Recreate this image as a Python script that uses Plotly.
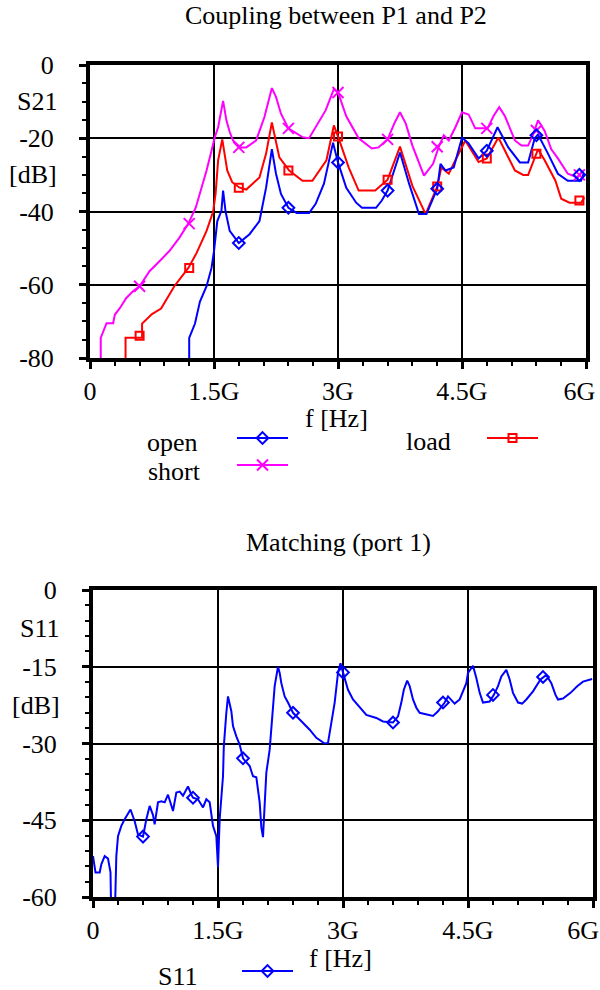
import plotly.graph_objects as go

W, H = 600, 990
FONT = "Liberation Serif"
FS = 26
NB = "\u00a0"

# ---------------- data (frequency in GHz, level in dB) ----------------
TOP_XTICKS = [0, 1.5, 3, 4.5, 6]
TOP_XTEXT = ["0", "1.5G", "3G", "4.5G", "6G"]
BOT_XTEXT = ["0", "1.5G", "3G", "4.5G", "6G"]
TOP_YTICKS = [0, -20, -40, -60, -80]
TOP_YTEXT = ["0", "-20", "-40", "-60", "-80"]
BOT_YTICKS = [0, -15, -30, -45, -60]
BOT_YTEXT = ["0", "-15", "-30", "-45", "-60"]

SHORT_PTS = [
    (0.13, -82), (0.13, -74.5), (0.2, -70.5), (0.28, -70.5), (0.3, -68.2), (0.36, -66.4),
    (0.44, -63.6), (0.52, -61.8), (0.6, -60.4), (0.72, -56.3), (0.84, -53.6), (0.96, -50.8),
    (1.08, -47.2), (1.19, -43.3), (1.28, -38.9), (1.33, -35.2), (1.41, -28.8), (1.47, -23.4),
    (1.51, -19.7), (1.55, -17), (1.59, -11.5), (1.61, -9.8), (1.65, -15.1), (1.69, -18.3),
    (1.73, -20.6), (1.82, -22.5), (1.89, -22.5), (2.01, -20.6), (2.11, -14.2), (2.2, -6.3),
    (2.25, -8.7), (2.31, -13.3), (2.4, -17.3), (2.49, -18.7), (2.57, -19.7), (2.65, -20),
    (2.73, -17), (2.85, -12.4), (2.95, -6.6), (3.0, -7.5), (3.1, -14), (3.25, -20),
    (3.41, -22.8), (3.49, -22.5), (3.6, -20.3), (3.68, -16), (3.75, -12.9), (3.82, -16),
    (3.9, -22), (4.04, -30.2), (4.15, -27), (4.22, -22.3), (4.28, -19.2), (4.34, -20.6),
    (4.42, -17), (4.5, -12.9), (4.58, -13.5), (4.66, -17.3), (4.74, -17.3), (4.81, -17.3),
    (4.88, -14), (4.95, -11.5), (5.02, -14), (5.14, -20.6), (5.22, -22), (5.3, -22),
    (5.36, -19), (5.42, -15.1), (5.5, -18), (5.58, -23), (5.66, -25.5), (5.78, -29.7),
    (5.9, -30.7), (5.96, -28.8),
]
LOAD_PTS = [
    (0.43, -82), (0.43, -74.5), (0.63, -74.5), (0.63, -70.6), (0.75, -68), (0.86, -66.5),
    (1.02, -60.4), (1.19, -55.4), (1.29, -51.3), (1.41, -45.3), (1.49, -40), (1.52, -35),
    (1.55, -26), (1.6, -20.3), (1.66, -28.8), (1.72, -32), (1.81, -33.5), (1.89, -34),
    (2.05, -30.7), (2.13, -24.2), (2.2, -15.7), (2.29, -25.2), (2.41, -28.8), (2.57, -31.6),
    (2.69, -31.6), (2.86, -26), (2.95, -16.5), (3.0, -19.5), (3.13, -28), (3.25, -34.3),
    (3.45, -34.3), (3.6, -31.3), (3.75, -22.3), (3.9, -33), (4.06, -40.7), (4.2, -33.2),
    (4.25, -28), (4.34, -29.7), (4.42, -26), (4.54, -20.6), (4.7, -26.5), (4.8, -25.5),
    (4.94, -19.8), (5.14, -28.8), (5.24, -30), (5.3, -30), (5.42, -23), (5.5, -26),
    (5.63, -31.6), (5.7, -36.5), (5.8, -37.6), (5.94, -37.6), (5.98, -36.2),
]
OPEN_PTS = [
    (1.2, -82), (1.2, -74.5), (1.27, -70.6), (1.33, -64.6), (1.41, -60.4), (1.47, -55.4),
    (1.5, -50.8), (1.54, -42.6), (1.59, -39.8), (1.61, -34.3), (1.64, -40), (1.69, -45.3),
    (1.8, -48.6), (1.93, -46.2), (2.05, -42.6), (2.1, -37), (2.13, -33.5), (2.2, -23),
    (2.25, -29.7), (2.31, -35.2), (2.4, -39), (2.5, -40.4), (2.65, -40.4), (2.73, -37.9),
    (2.83, -32.4), (2.94, -21.2), (3.0, -26.6), (3.1, -33.5), (3.22, -37.6), (3.29, -39),
    (3.46, -39), (3.53, -37), (3.6, -34.3), (3.75, -23.9), (3.86, -32.4), (3.98, -40.7),
    (4.07, -40.7), (4.2, -33.8), (4.24, -27), (4.3, -28.8), (4.4, -28), (4.5, -19.8),
    (4.58, -21.4), (4.7, -25.5), (4.8, -23.4), (4.93, -17), (5.06, -22.5), (5.2, -26.6),
    (5.3, -26.6), (5.38, -20), (5.42, -19), (5.54, -24.2), (5.66, -29.7), (5.78, -31.6),
    (5.94, -31.6), (5.97, -29.7),
]
OPEN_MK_F = [1.8, 2.4, 3.0, 3.6, 4.2, 4.8, 5.4, 5.92]
OPEN_MK_DB = [-48.6, -39, -26.6, -34.3, -33.8, -23.4, -19.2, -30]
LOAD_MK_F = [0.6, 1.2, 1.8, 2.4, 3.0, 3.6, 4.2, 4.8, 5.4, 5.92]
LOAD_MK_DB = [-73.9, -55.4, -33.5, -28.8, -19.5, -31.3, -33.2, -25.5, -24.2, -37]
SHORT_MK_F = [0.6, 1.2, 1.8, 2.4, 3.0, 3.6, 4.2, 4.8, 5.4, 5.92]
SHORT_MK_DB = [-60.4, -43.3, -22.5, -17.3, -7.5, -20.3, -22.3, -17.3, -17.9, -30]

S11_PTS = [
    (0.0, -52), (0.03, -55.2), (0.08, -55.2), (0.1, -53.6), (0.14, -52), (0.18, -52.5),
    (0.21, -55.2), (0.22, -65), (0.26, -65), (0.28, -52), (0.3, -48.1), (0.34, -46.1),
    (0.38, -44.8), (0.45, -42.9), (0.5, -45.2), (0.54, -47.8), (0.6, -48.2), (0.64, -44.8),
    (0.68, -42.2), (0.72, -44), (0.74, -45.8), (0.78, -41.5), (0.82, -41.3), (0.86, -41.5),
    (0.9, -40), (0.96, -43.2), (1.0, -39.6), (1.04, -39.4), (1.08, -40.2), (1.14, -38.4),
    (1.18, -40), (1.2, -40.6), (1.26, -40.9), (1.32, -42.5), (1.36, -40.9), (1.4, -41.5),
    (1.44, -46.1), (1.48, -48.1), (1.5, -54.2), (1.52, -44.8), (1.56, -36.4), (1.57, -30.5),
    (1.6, -24), (1.62, -20.8), (1.66, -23.7), (1.68, -26.6), (1.72, -28.6), (1.76, -30.2),
    (1.8, -32.9), (1.88, -34.4), (1.92, -36.4), (1.96, -36.6), (2.0, -41.5), (2.02, -46.4),
    (2.04, -48.3), (2.06, -42.9), (2.08, -35.7), (2.12, -31.2), (2.14, -27.3), (2.16, -24),
    (2.18, -18.8), (2.22, -15), (2.24, -16.2), (2.26, -18.2), (2.3, -20.8), (2.34, -22),
    (2.4, -24), (2.48, -25.3), (2.6, -27.3), (2.68, -28.9), (2.78, -30), (2.82, -29.9),
    (2.86, -26), (2.9, -22), (2.94, -16.2), (2.97, -14.3), (3.0, -16.1), (3.06, -19.5),
    (3.12, -21.4), (3.2, -23), (3.28, -24.4), (3.4, -25), (3.48, -25.7), (3.6, -25.9),
    (3.66, -24.7), (3.7, -22), (3.73, -19.5), (3.77, -17.7), (3.8, -18.8), (3.84, -21.4),
    (3.88, -23), (3.92, -24), (3.98, -24.2), (4.08, -24.6), (4.14, -23.7), (4.22, -22),
    (4.26, -20.8), (4.3, -21.4), (4.34, -22.2), (4.4, -21.4), (4.44, -19.8), (4.48, -18.2),
    (4.5, -16.2), (4.56, -14.8), (4.6, -17.2), (4.64, -20.1), (4.68, -22), (4.76, -21.8),
    (4.81, -20.5), (4.86, -18.8), (4.9, -16.9), (4.96, -15.6), (5.0, -17.5), (5.04, -20.1),
    (5.1, -22), (5.15, -22.2), (5.2, -21.4), (5.28, -19.8), (5.37, -17.5), (5.44, -16.6),
    (5.5, -18.2), (5.55, -20.5), (5.58, -21.4), (5.64, -21.2), (5.73, -20.1), (5.81, -18.8),
    (5.88, -17.9), (5.99, -17.4),
]
S11_MK_F = [0.6, 1.2, 1.8, 2.4, 3.0, 3.6, 4.2, 4.8, 5.4]
S11_MK_DB = [-48.2, -40.6, -32.9, -24, -16.1, -25.9, -22, -20.5, -17]

BLUE, RED, MAG = "#0000ff", "#ff0000", "#ff00ff"

# ---------------- layout helpers ----------------
def fx(px):
    return px / W

def fy(py):
    return 1 - py / H

fig = go.Figure()

def curve(pts, color, xa, ya):
    fig.add_trace(go.Scatter(
        x=[p[0] for p in pts], y=[p[1] for p in pts], mode="lines",
        line=dict(color=color, width=2), xaxis=xa, yaxis=ya,
        showlegend=False, hoverinfo="skip"))

def marks(f, d, color, symbol, size, xa, ya):
    fig.add_trace(go.Scatter(
        x=f, y=d, mode="markers", xaxis=xa, yaxis=ya,
        marker=dict(symbol=symbol, size=size, color=color,
                    line=dict(color=color, width=2)),
        showlegend=False, hoverinfo="skip"))

SYM = {"open": ("diamond-open", 9), "load": ("square-open", 8), "short": ("x-thin-open", 11)}

curve(SHORT_PTS, MAG, "x", "y")
curve(LOAD_PTS, RED, "x", "y")
curve(OPEN_PTS, BLUE, "x", "y")
marks(SHORT_MK_F, SHORT_MK_DB, MAG, *SYM["short"], "x", "y")
marks(LOAD_MK_F, LOAD_MK_DB, RED, *SYM["load"], "x", "y")
marks(OPEN_MK_F, OPEN_MK_DB, BLUE, *SYM["open"], "x", "y")

curve(S11_PTS, BLUE, "x2", "y2")
marks(S11_MK_F, S11_MK_DB, BLUE, *SYM["open"], "x2", "y2")

# legend samples on a pixel overlay axis (x3/y3)
LEGEND = [
    ("open", BLUE, "open", 172, 442, 237, 288, 438),
    ("load", RED, "load", 428, 441, 487, 538, 438),
    ("short", MAG, "short", 174, 471, 237, 288, 465),
    ("S11", BLUE, "open", 178, 976, 242, 293, 971),
]
annotations = []
for label, color, sym, tx, ty, lx0, lx1, ly in LEGEND:
    fig.add_trace(go.Scatter(x=[lx0, lx1], y=[ly, ly], mode="lines",
                             line=dict(color=color, width=2), xaxis="x3", yaxis="y3",
                             showlegend=False, hoverinfo="skip"))
    s, sz = SYM[sym]
    fig.add_trace(go.Scatter(x=[(lx0 + lx1) / 2], y=[ly], mode="markers",
                             marker=dict(symbol=s, size=sz, color=color,
                                         line=dict(color=color, width=2)),
                             xaxis="x3", yaxis="y3", showlegend=False, hoverinfo="skip"))
    annotations.append(dict(text=label, x=fx(tx), y=fy(ty), xref="paper", yref="paper",
                            xanchor="center", yanchor="middle", showarrow=False))

# titles and axis titles
for text, tx, ty in [("Coupling between P1 and P2", 336, 16), ("f [Hz]", 336, 418),
                     ("Matching (port 1)", 338, 542), ("f [Hz]", 340, 958)]:
    annotations.append(dict(text=text, x=fx(tx), y=fy(ty), xref="paper", yref="paper",
                            xanchor="center", yanchor="middle", showarrow=False))

# y labels placed between tick labels
for text, yv, xr, yr in [("S21", -10, "x domain", "y"), ("[dB]", -30, "x domain", "y"),
                         ("S11", -7.5, "x2 domain", "y2"), ("[dB]", -22.5, "x2 domain", "y2")]:
    annotations.append(dict(text=text, x=0, y=yv, xref=xr, yref=yr, xanchor="right",
                            yanchor="middle", xshift=-31, showarrow=False))

def xaxis_style(domain, anchor, labels):
    return dict(domain=domain, anchor=anchor, range=[0, 6], tickvals=TOP_XTICKS,
                ticktext=labels, showgrid=True, gridcolor="black", gridwidth=2,
                showline=True, linecolor="black", linewidth=4, mirror=True,
                ticks="outside", ticklen=7, tickwidth=3, tickcolor="black",
                minor=dict(dtick=0.3, ticks="outside", ticklen=4, tickwidth=2,
                           tickcolor="black", showgrid=False),
                zeroline=False, fixedrange=True, tickfont=dict(size=FS),
                automargin=False, ticklabeloverflow="allow")

def yaxis_style(domain, anchor, rng, tv, tt, minor):
    return dict(domain=domain, anchor=anchor, range=rng, tickvals=tv, ticktext=tt,
                showgrid=True, gridcolor="black", gridwidth=2,
                showline=True, linecolor="black", linewidth=4, mirror=True,
                ticks="outside", ticklen=7, tickwidth=3, tickcolor="black",
                minor=dict(dtick=minor, ticks="outside", ticklen=4, tickwidth=2,
                           tickcolor="black", showgrid=False),
                zeroline=False, fixedrange=True, tickfont=dict(size=FS),
                ticklabelstandoff=20, automargin=False, ticklabeloverflow="allow")

# keep the last x label inside the page (the original draws it flush with the edge)
top_labels = TOP_XTEXT[:-1] + [TOP_XTEXT[-1] + NB * 2]
bot_labels = BOT_XTEXT[:-1] + [BOT_XTEXT[-1] + NB * 3]

fig.update_layout(
    width=W, height=H, margin=dict(l=0, r=0, t=0, b=0, autoexpand=False),
    paper_bgcolor="white", plot_bgcolor="rgba(0,0,0,0)",
    font=dict(family=FONT, size=FS, color="black"),
    showlegend=False,
    xaxis=xaxis_style([fx(90), fx(586)], "y", top_labels),
    yaxis=yaxis_style([fy(358), fy(65)], "x", [-80, 0], TOP_YTICKS, TOP_YTEXT, 5),
    xaxis2=xaxis_style([fx(93), fx(593)], "y2", bot_labels),
    yaxis2=yaxis_style([fy(897), fy(590)], "x2", [-60, 0], BOT_YTICKS, BOT_YTEXT, 3),
    xaxis3=dict(domain=[0, 1], range=[0, W], visible=False, anchor="y3", fixedrange=True),
    yaxis3=dict(domain=[0, 1], range=[H, 0], visible=False, anchor="x3", fixedrange=True),
    annotations=annotations,
)

fig.write_html("out.html", config={"displayModeBar": False, "staticPlot": True},
               post_script="document.body.style.margin='0px';document.body.style.overflow='hidden';")
